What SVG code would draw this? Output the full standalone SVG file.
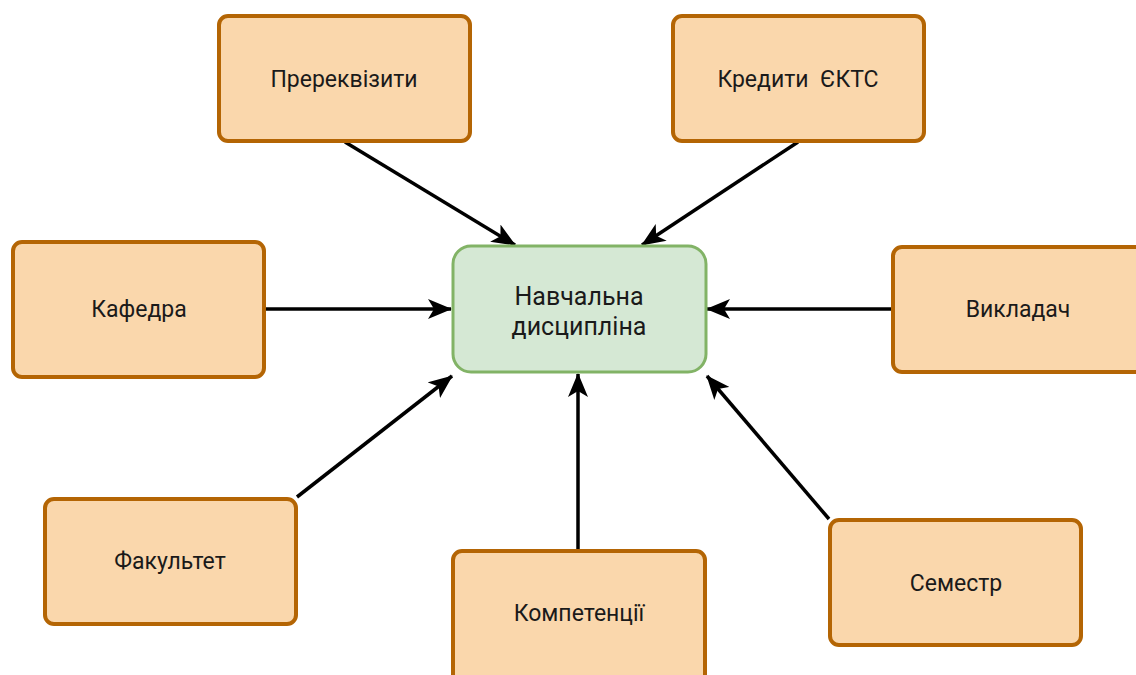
<svg xmlns="http://www.w3.org/2000/svg" width="1136" height="675" viewBox="0 0 1136 675">
  <style>
    .box { fill: #fad7ac; stroke: #b46504; stroke-width: 4; }
    .core { fill: #d5e8d4; stroke: #82b366; stroke-width: 3; }
    .lbl { font-family: Roboto, "Liberation Sans", sans-serif; font-size: 23px; fill: #1a1a1a; text-anchor: middle; dominant-baseline: central; }
    .big { font-size: 25px; }
    .edge { stroke: #000; stroke-width: 3.5; fill: none; marker-end: url(#arrow); }
  </style>
  <defs>
    <marker id="arrow" viewBox="0 0 24 20" refX="23" refY="10" markerWidth="24" markerHeight="20" markerUnits="userSpaceOnUse" orient="auto">
      <path d="M0,0 L24,10 L0,20 L6,10 Z" fill="#000"/>
    </marker>
  </defs>
  <rect width="1136" height="675" fill="#fff"/>

  <g id="connectors">
    <line class="edge" x1="345" y1="142" x2="515" y2="245"/>
    <line class="edge" x1="798" y1="142" x2="642" y2="245"/>
    <line class="edge" x1="266" y1="309" x2="451" y2="309"/>
    <line class="edge" x1="891" y1="309" x2="707" y2="309"/>
    <line class="edge" x1="297" y1="497" x2="452" y2="376"/>
    <line class="edge" x1="578" y1="549" x2="578" y2="374"/>
    <line class="edge" x1="829" y1="519" x2="707" y2="376"/>
  </g>

  <g id="node-core">
    <rect class="core" x="453" y="246" width="253" height="126" rx="18"/>
    <text class="lbl big" x="579" y="296">Навчальна</text>
    <text class="lbl big" x="579" y="326">дисципліна</text>
  </g>
  <g id="node-prerequisites">
    <rect class="box" x="219" y="16" width="251" height="125" rx="9"/>
    <text class="lbl" x="344" y="79">Пререквізити</text>
  </g>
  <g id="node-credits">
    <rect class="box" x="673" y="16" width="251" height="125" rx="9"/>
    <text class="lbl" x="798" y="79">Кредити&#160; ЄКТС</text>
  </g>
  <g id="node-department">
    <rect class="box" x="13" y="242" width="251" height="135" rx="9"/>
    <text class="lbl" x="139" y="309">Кафедра</text>
  </g>
  <g id="node-teacher">
    <rect class="box" x="893" y="247" width="251" height="125" rx="9"/>
    <text class="lbl" x="1018" y="309">Викладач</text>
  </g>
  <g id="node-faculty">
    <rect class="box" x="45" y="499" width="251" height="125" rx="9"/>
    <text class="lbl" x="170" y="561">Факультет</text>
  </g>
  <g id="node-competences">
    <rect class="box" x="453" y="551" width="252" height="135" rx="9"/>
    <text class="lbl" x="579" y="613">Компетенції</text>
  </g>
  <g id="node-semester">
    <rect class="box" x="830" y="520" width="251" height="125" rx="9"/>
    <text class="lbl" x="956" y="583">Семестр</text>
  </g>
</svg>
